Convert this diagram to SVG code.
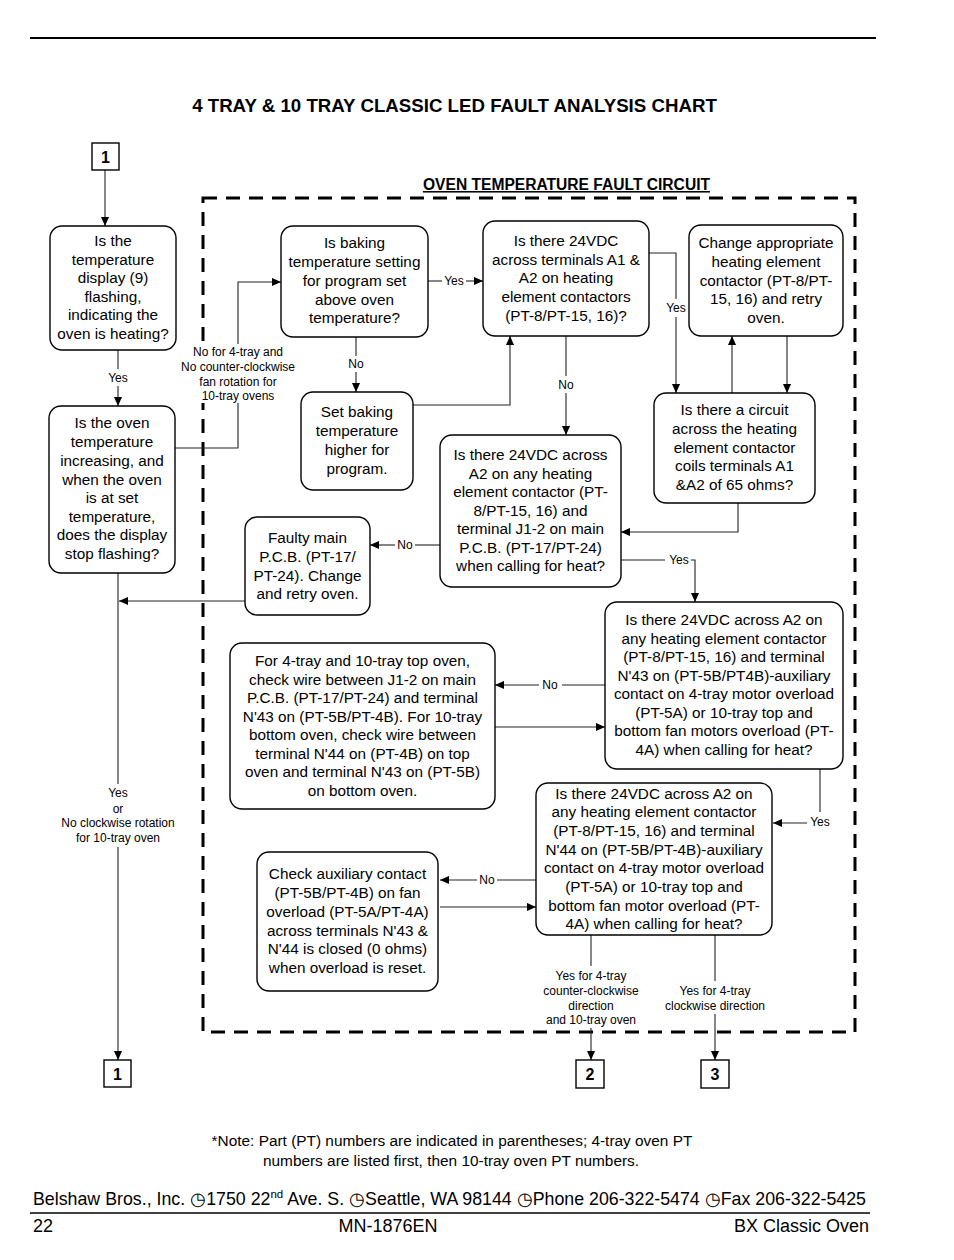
<svg xmlns="http://www.w3.org/2000/svg" width="954" height="1260" viewBox="0 0 954 1260">
<style>
.bx{fill:#fff;stroke:#000;stroke-width:1.4}
.sq{fill:#fff;stroke:#000;stroke-width:1.4}
.t{font-family:"Liberation Sans",Arial,sans-serif;font-size:15.3px;fill:#000;text-anchor:middle}
.s{font-family:"Liberation Sans",Arial,sans-serif;font-size:12px;fill:#000;text-anchor:middle}
.c{fill:none;stroke:#222;stroke-width:1.1}
.ca{fill:none;stroke:#222;stroke-width:1.1;marker-end:url(#ah)}
.num{font-family:"Liberation Sans",Arial,sans-serif;font-size:16px;font-weight:bold;text-anchor:middle}
.ft{font-family:"Liberation Sans",Arial,sans-serif;fill:#000}
</style>
<defs>
<marker id="ah" markerUnits="userSpaceOnUse" markerWidth="9" markerHeight="9" viewBox="0 0 10 10" refX="10" refY="5" orient="auto">
<path d="M0,0.5 L10,5 L0,9.5 z" fill="#000"/>
</marker>
</defs>
<rect width="954" height="1260" fill="#fff"/>
<line x1="30" y1="38" x2="876" y2="38" stroke="#000" stroke-width="2"/>
<text x="454.5" y="112" class="ft" font-size="18.7" font-weight="bold" text-anchor="middle">4 TRAY &amp; 10 TRAY CLASSIC LED FAULT ANALYSIS CHART</text>

<g id="circuit">
<rect x="203" y="198" width="652" height="834" fill="none" stroke="#000" stroke-width="3" stroke-dasharray="14 9"/>
<text x="566.5" y="190" class="ft" font-size="15.6" font-weight="bold" text-anchor="middle" text-decoration="underline">OVEN TEMPERATURE FAULT CIRCUIT</text>
</g>

<g id="connectors">
<line class="ca" x1="105" y1="170" x2="105" y2="226"/>
<line class="c" x1="118" y1="350" x2="118" y2="369"/>
<text class="s" x="118" y="382">Yes</text>
<line class="ca" x1="118" y1="386" x2="118" y2="406"/>
<polyline class="c" points="175,448 238,448 238,403"/>
<rect x="178" y="343" width="122" height="60" fill="#fff"/>
<text class="s" x="238" y="356">No for 4-tray and</text>
<text class="s" x="238" y="371">No counter-clockwise</text>
<text class="s" x="238" y="386">fan rotation for</text>
<text class="s" x="238" y="400">10-tray ovens</text>
<polyline class="ca" points="238,344 238,282 281,282"/>
<line class="c" x1="428" y1="281" x2="442" y2="281"/>
<text class="s" x="454" y="285">Yes</text>
<line class="ca" x1="466" y1="281" x2="483" y2="281"/>
<line class="c" x1="356" y1="337" x2="356" y2="356"/>
<text class="s" x="356" y="368">No</text>
<line class="ca" x1="356" y1="372" x2="356" y2="392"/>
<polyline class="ca" points="413,405 510,405 510,336"/>
<line class="c" x1="566" y1="336" x2="566" y2="376"/>
<text class="s" x="566" y="389">No</text>
<line class="ca" x1="566" y1="393" x2="566" y2="435"/>
<polyline class="c" points="649,253 676,253 676,299"/>
<text class="s" x="676" y="312">Yes</text>
<line class="ca" x1="676" y1="317" x2="676" y2="393"/>
<line class="ca" x1="732" y1="393" x2="732" y2="336"/>
<line class="ca" x1="787" y1="336" x2="787" y2="393"/>
<polyline class="ca" points="738,503 738,532 621,532"/>
<line class="c" x1="440" y1="545" x2="415" y2="545"/>
<text class="s" x="405" y="549">No</text>
<line class="ca" x1="395" y1="545" x2="370" y2="545"/>
<line class="ca" x1="245" y1="601" x2="119" y2="601"/>
<line class="c" x1="118" y1="573" x2="118" y2="784"/>
<text class="s" x="118" y="797">Yes</text>
<text class="s" x="118" y="813">or</text>
<text class="s" x="118" y="827">No clockwise rotation</text>
<text class="s" x="118" y="842">for 10-tray oven</text>
<line class="ca" x1="118" y1="847" x2="118" y2="1060"/>
<polyline class="c" points="621,560 665,560"/>
<text class="s" x="679" y="564">Yes</text>
<polyline class="ca" points="691,560 695,560 695,602"/>
<line class="c" x1="605" y1="685" x2="562" y2="685"/>
<text class="s" x="550" y="689">No</text>
<line class="ca" x1="539" y1="685" x2="495" y2="685"/>
<line class="ca" x1="495" y1="727" x2="605" y2="727"/>
<line class="c" x1="820" y1="769" x2="820" y2="812"/>
<text class="s" x="820" y="826">Yes</text>
<line class="ca" x1="807" y1="823" x2="773" y2="823"/>
<line class="c" x1="536" y1="880" x2="497" y2="880"/>
<text class="s" x="487" y="884">No</text>
<line class="ca" x1="477" y1="880" x2="440" y2="880"/>
<line class="ca" x1="440" y1="907" x2="536" y2="907"/>
<line class="c" x1="591" y1="935" x2="591" y2="966"/>
<text class="s" x="591" y="980">Yes for 4-tray</text>
<text class="s" x="591" y="995">counter-clockwise</text>
<text class="s" x="591" y="1010">direction</text>
<text class="s" x="591" y="1024">and 10-tray oven</text>
<line class="ca" x1="591" y1="1028" x2="591" y2="1060"/>
<line class="c" x1="715" y1="935" x2="715" y2="981"/>
<text class="s" x="715" y="995">Yes for 4-tray</text>
<text class="s" x="715" y="1010">clockwise direction</text>
<line class="ca" x1="715" y1="1014" x2="715" y2="1060"/>
</g>

<g id="conn1top"><rect class="sq" x="92" y="143" width="27" height="27"/><text class="num" x="105.5" y="162.5">1</text></g>
<g id="conn1bot"><rect class="sq" x="104" y="1060" width="27" height="27"/><text class="num" x="117.5" y="1079.5">1</text></g>
<g id="conn2"><rect class="sq" x="576" y="1060" width="28" height="28"/><text class="num" x="590" y="1080">2</text></g>
<g id="conn3"><rect class="sq" x="701" y="1060" width="28" height="28"/><text class="num" x="715" y="1080">3</text></g>

<g id="A"><rect class="bx" x="50" y="226" width="126" height="124" rx="12"/>
<text class="t" x="113"><tspan x="113" y="246">Is the</tspan><tspan x="113" y="264.5">temperature</tspan><tspan x="113" y="283">display (9)</tspan><tspan x="113" y="301.5">flashing,</tspan><tspan x="113" y="320">indicating the</tspan><tspan x="113" y="338.5">oven is heating?</tspan></text></g>

<g id="B"><rect class="bx" x="49" y="406" width="126" height="167" rx="12"/>
<text class="t" x="112"><tspan x="112" y="428">Is the oven</tspan><tspan x="112" y="447">temperature</tspan><tspan x="112" y="466">increasing, and</tspan><tspan x="112" y="484.5">when the oven</tspan><tspan x="112" y="503">is at set</tspan><tspan x="112" y="521.5">temperature,</tspan><tspan x="112" y="540">does the display</tspan><tspan x="112" y="559">stop flashing?</tspan></text></g>

<g id="C"><rect class="bx" x="281" y="226" width="147" height="111" rx="12"/>
<text class="t"><tspan x="354.5" y="248">Is baking</tspan><tspan x="354.5" y="267">temperature setting</tspan><tspan x="354.5" y="286">for program set</tspan><tspan x="354.5" y="304.5">above oven</tspan><tspan x="354.5" y="323">temperature?</tspan></text></g>

<g id="D"><rect class="bx" x="483" y="221" width="166" height="115" rx="12"/>
<text class="t"><tspan x="566" y="246">Is there 24VDC</tspan><tspan x="566" y="264.5">across terminals A1 &amp;</tspan><tspan x="566" y="283">A2 on heating</tspan><tspan x="566" y="302">element contactors</tspan><tspan x="566" y="321">(PT-8/PT-15, 16)?</tspan></text></g>

<g id="E"><rect class="bx" x="689" y="225" width="154" height="111" rx="12"/>
<text class="t"><tspan x="766" y="248">Change appropriate</tspan><tspan x="766" y="267">heating element</tspan><tspan x="766" y="285.5">contactor (PT-8/PT-</tspan><tspan x="766" y="304">15, 16) and retry</tspan><tspan x="766" y="323">oven.</tspan></text></g>

<g id="H"><rect class="bx" x="301" y="392" width="112" height="98" rx="12"/>
<text class="t"><tspan x="357" y="417">Set baking</tspan><tspan x="357" y="436">temperature</tspan><tspan x="357" y="455">higher for</tspan><tspan x="357" y="474">program.</tspan></text></g>

<g id="F"><rect class="bx" x="654" y="393" width="161" height="110" rx="12"/>
<text class="t"><tspan x="734.5" y="415">Is there a circuit</tspan><tspan x="734.5" y="434">across the heating</tspan><tspan x="734.5" y="452.5">element contactor</tspan><tspan x="734.5" y="471">coils terminals A1</tspan><tspan x="734.5" y="490">&amp;A2 of 65 ohms?</tspan></text></g>

<g id="G"><rect class="bx" x="440" y="435" width="181" height="152" rx="12"/>
<text class="t"><tspan x="530.5" y="460">Is there 24VDC across</tspan><tspan x="530.5" y="478.5">A2 on any heating</tspan><tspan x="530.5" y="497">element contactor (PT-</tspan><tspan x="530.5" y="515.5">8/PT-15, 16) and</tspan><tspan x="530.5" y="534">terminal J1-2 on main</tspan><tspan x="530.5" y="552.5">P.C.B. (PT-17/PT-24)</tspan><tspan x="530.5" y="571">when calling for heat?</tspan></text></g>

<g id="I"><rect class="bx" x="245" y="517" width="125" height="98" rx="12"/>
<text class="t"><tspan x="307.5" y="543">Faulty main</tspan><tspan x="307.5" y="562">P.C.B. (PT-17/</tspan><tspan x="307.5" y="580.5">PT-24). Change</tspan><tspan x="307.5" y="599">and retry oven.</tspan></text></g>

<g id="J"><rect class="bx" x="605" y="602" width="238" height="167" rx="12"/>
<text class="t"><tspan x="724" y="625">Is there 24VDC across A2 on</tspan><tspan x="724" y="643.5">any heating element contactor</tspan><tspan x="724" y="662">(PT-8/PT-15, 16) and terminal</tspan><tspan x="724" y="680.5">N'43 on (PT-5B/PT4B)-auxiliary</tspan><tspan x="724" y="699">contact on 4-tray motor overload</tspan><tspan x="724" y="717.5">(PT-5A) or 10-tray top and</tspan><tspan x="724" y="736">bottom fan motors overload (PT-</tspan><tspan x="724" y="755">4A) when calling for heat?</tspan></text></g>

<g id="L"><rect class="bx" x="230" y="643" width="265" height="166" rx="12"/>
<text class="t"><tspan x="362.5" y="666">For 4-tray and 10-tray top oven,</tspan><tspan x="362.5" y="684.5">check wire between J1-2 on main</tspan><tspan x="362.5" y="703">P.C.B. (PT-17/PT-24) and terminal</tspan><tspan x="362.5" y="721.5">N'43 on (PT-5B/PT-4B). For 10-tray</tspan><tspan x="362.5" y="740">bottom oven, check wire between</tspan><tspan x="362.5" y="758.5">terminal N'44 on (PT-4B) on top</tspan><tspan x="362.5" y="777">oven and terminal N'43 on (PT-5B)</tspan><tspan x="362.5" y="795.5">on bottom oven.</tspan></text></g>

<g id="K"><rect class="bx" x="536" y="783" width="236" height="152" rx="12"/>
<text class="t"><tspan x="654" y="798.5">Is there 24VDC across A2 on</tspan><tspan x="654" y="817">any heating element contactor</tspan><tspan x="654" y="836">(PT-8/PT-15, 16) and terminal</tspan><tspan x="654" y="854.5">N'44 on (PT-5B/PT-4B)-auxiliary</tspan><tspan x="654" y="873">contact on 4-tray motor overload</tspan><tspan x="654" y="892">(PT-5A) or 10-tray top and</tspan><tspan x="654" y="910.5">bottom fan motor overload (PT-</tspan><tspan x="654" y="929">4A) when calling for heat?</tspan></text></g>

<g id="M"><rect class="bx" x="257" y="852" width="181" height="139" rx="12"/>
<text class="t"><tspan x="347.5" y="879">Check auxiliary contact</tspan><tspan x="347.5" y="898">(PT-5B/PT-4B) on fan</tspan><tspan x="347.5" y="917">overload (PT-5A/PT-4A)</tspan><tspan x="347.5" y="935.5">across terminals N'43 &amp;</tspan><tspan x="347.5" y="954">N'44 is closed (0 ohms)</tspan><tspan x="347.5" y="972.5">when overload is reset.</tspan></text></g>

<g id="footer">
<text class="ft" x="452" y="1146" font-size="15.4" text-anchor="middle">*Note: Part (PT) numbers are indicated in parentheses; 4-tray oven PT</text>
<text class="ft" x="451" y="1166" font-size="15.4" text-anchor="middle">numbers are listed first, then 10-tray oven PT numbers.</text>
<text class="ft" x="33" y="1205" font-size="17.8">Belshaw Bros., Inc. ◷1750 22<tspan font-size="11.5" dy="-7">nd</tspan><tspan dy="7"> Ave. S. ◷Seattle, WA 98144 ◷Phone 206-322-5474 ◷Fax 206-322-5425</tspan></text>
<line x1="30" y1="1213" x2="870" y2="1213" stroke="#000" stroke-width="1.5"/>
<text class="ft" x="33" y="1232" font-size="18">22</text>
<text class="ft" x="388" y="1232" font-size="18" text-anchor="middle">MN-1876EN</text>
<text class="ft" x="869" y="1232" font-size="18" text-anchor="end">BX Classic Oven</text>
</g>
</svg>
